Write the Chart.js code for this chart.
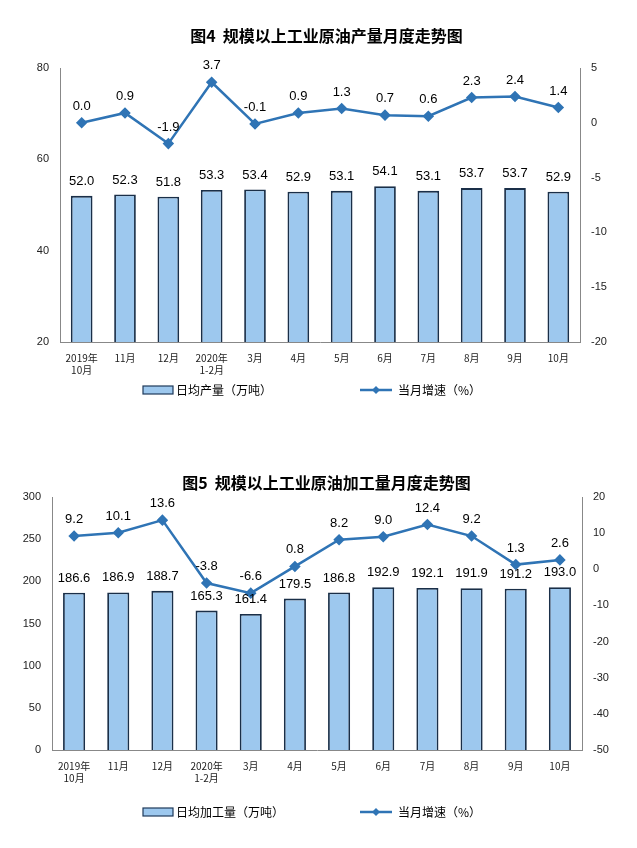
<!DOCTYPE html><html><head><meta charset="utf-8">
<script src="https://cdn.jsdelivr.net/npm/chart.js@4"></script>
<style>body{margin:0;background:#fff;width:637px;height:848px;position:relative;overflow:hidden}
canvas{position:absolute;left:0}</style></head><body>
<div style="position:absolute;top:0;left:0;width:637px;height:430px"><canvas id="c1"></canvas></div>
<div style="position:absolute;top:440px;left:0;width:637px;height:408px"><canvas id="c2"></canvas></div>
<script>
const categories=[['2019年','10月'],'11月','12月',['2020年','1-2月'],'3月','4月','5月','6月','7月','8月','9月','10月'];
const output=[52.0,52.3,51.8,53.3,53.4,52.9,53.1,54.1,53.1,53.7,53.7,52.9];
const outputGrowth=[0.0,0.9,-1.9,3.7,-0.1,0.9,1.3,0.7,0.6,2.3,2.4,1.4];
const processing=[186.6,186.9,188.7,165.3,161.4,179.5,186.8,192.9,192.1,191.9,191.2,193.0];
const processingGrowth=[9.2,10.1,13.6,-3.8,-6.6,0.8,8.2,9.0,12.4,9.2,1.3,2.6];
const FONT='"Noto Sans CJK SC","Liberation Sans",sans-serif';
const LINE='#2F74B5', BAR='#9DC8EE';
function make(id,title,barLbl,bars,line,l,r,legendY,titleY,padTop,padBot){
 const labelPlugin={id:'lbl'+id,afterDatasetsDraw(ch){
  const c=ch.ctx;c.save();c.fillStyle='#000';c.font='13px "Liberation Sans",Arial';c.textAlign='center';c.textBaseline='bottom';
  ch.getDatasetMeta(0).data.forEach((e,i)=>c.fillText(bars[i].toFixed(1),e.x,e.y-8));
  ch.getDatasetMeta(1).data.forEach((e,i)=>c.fillText(line[i].toFixed(1),e.x,e.y-10));
  c.font='bold 16px '+FONT;c.fillText(title,ch.width/2+8,titleY+9);
  c.font='12px '+FONT;c.textAlign='left';c.textBaseline='middle';
  c.fillStyle=BAR;c.strokeStyle='#1F3A5A';c.lineWidth=1.2;c.fillRect(143,legendY-4,30,8);c.strokeRect(143,legendY-4,30,8);
  c.fillStyle='#000';c.fillText(barLbl,176,legendY);
  c.strokeStyle=LINE;c.lineWidth=2.5;c.beginPath();c.moveTo(360,legendY);c.lineTo(392,legendY);c.stroke();
  c.fillStyle=LINE;c.beginPath();c.moveTo(376,legendY-4);c.lineTo(380,legendY);c.lineTo(376,legendY+4);c.lineTo(372,legendY);c.fill();
  c.fillStyle='#000';c.fillText('当月增速（%）',398,legendY);
  c.restore();}};
 new Chart(document.getElementById(id),{type:'bar',data:{labels:categories,datasets:[
  {type:'bar',data:bars,backgroundColor:BAR,borderColor:'#1A2F48',borderWidth:1.8,barPercentage:0.5,categoryPercentage:1,yAxisID:'y',order:2},
  {type:'line',data:line,borderColor:LINE,backgroundColor:LINE,borderWidth:2.5,pointStyle:'rectRot',pointRadius:4,pointBackgroundColor:LINE,yAxisID:'y1',order:1}]},
 options:{responsive:true,maintainAspectRatio:false,animation:false,
  layout:{padding:{top:padTop,bottom:padBot,left:0,right:0}},
  plugins:{legend:{display:false},tooltip:{enabled:false}},
  scales:{
   x:{grid:{display:false,drawTicks:true},border:{color:'#888'},ticks:{color:'#222',font:{size:10,family:FONT},maxRotation:0,padding:2},afterFit:s=>{s.height=40}},
   y:{position:'left',min:l[0],max:l[1],grid:{display:false},border:{color:'#888'},ticks:{stepSize:l[2],color:'#222',font:{size:11}},afterFit:s=>{s.width=l[3]}},
   y1:{position:'right',min:r[0],max:r[1],grid:{display:false},border:{color:'#888'},ticks:{stepSize:r[2],color:'#222',font:{size:11}},afterFit:s=>{s.width=r[3]}}}},
 plugins:[labelPlugin]});
}
make('c1','图4  规模以上工业原油产量月度走势图','日均产量（万吨）',output,outputGrowth,[20,80,20,60],[-20,5,5,57],390,35,68,48);
make('c2','图5  规模以上工业原油加工量月度走势图','日均加工量（万吨）',processing,processingGrowth,[0,300,50,52],[-50,20,10,55],372,42,57,58);
</script></body></html>
